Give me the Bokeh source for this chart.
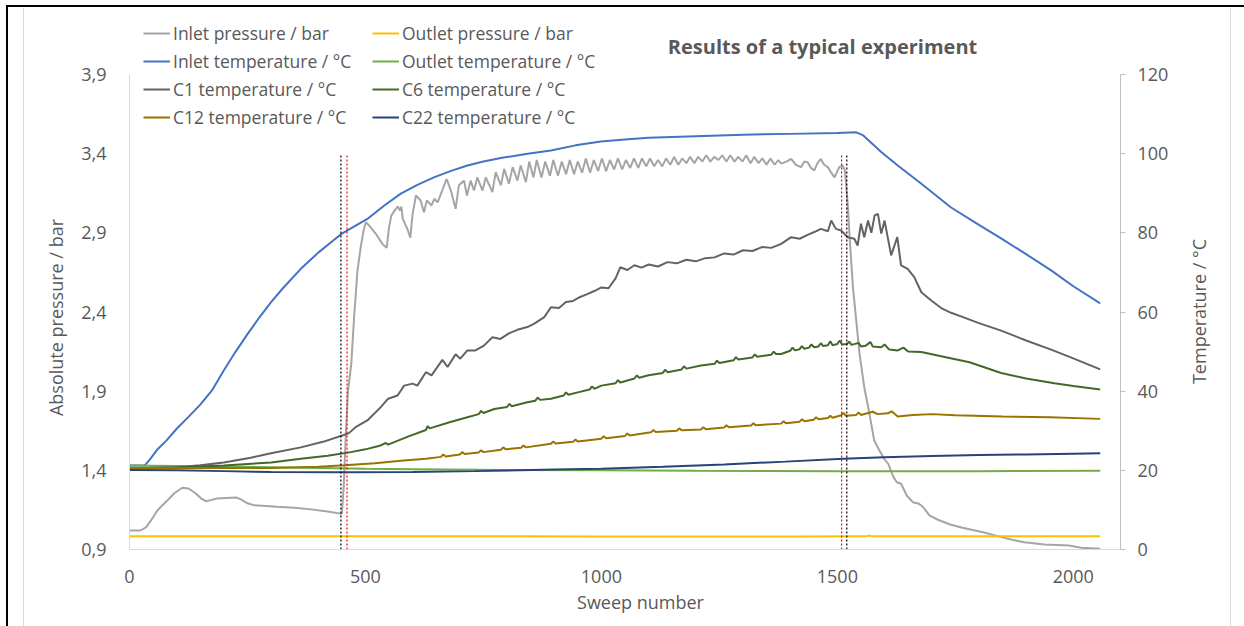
import math
from bokeh.plotting import figure
from bokeh.models import (Range1d, LinearAxis, FixedTicker, CustomJSTickFormatter,
                          Legend, LegendItem, Label)
from bokeh.embed import file_html
from bokeh.resources import INLINE

# ---------------- data ----------------
x_ticks = [0, 500, 1000, 1500, 2000]
p_ticks = [0.9, 1.4, 1.9, 2.4, 2.9, 3.4, 3.9]
t_ticks = [0, 20, 40, 60, 80, 100, 120]

ip_sweep = [0, 23, 35, 47, 59, 70, 80, 95, 112, 125, 140, 152, 162, 172, 185, 205, 227, 237, 250, 263, 290, 313, 350, 380, 420, 450,
            454, 458, 463, 470, 476, 483, 490, 496, 501, 508, 522, 536, 545, 550, 555, 564, 569, 573, 576, 579, 590, 595, 600, 607,
            617, 624, 630, 640, 646, 653, 672, 681, 691, 698, 709, 715, 723, 730, 737, 748, 755, 769, 776, 787, 794, 804, 812, 822,
            829, 840, 847, 856, 863, 873, 881, 891, 898, 908, 916, 925, 933, 942, 950, 959, 967, 976, 984, 993, 1001, 1010, 1018,
            1027, 1035, 1044, 1052, 1061, 1069, 1078, 1086, 1095, 1103, 1112, 1120, 1129, 1137, 1146, 1154, 1163, 1171, 1180, 1188,
            1197, 1205, 1214, 1222, 1231, 1239, 1248, 1256, 1265, 1273, 1282, 1290, 1299, 1307, 1316, 1324, 1333, 1341, 1350, 1358,
            1367, 1375, 1381, 1392, 1402, 1412, 1423, 1430, 1437, 1444, 1451, 1458, 1465, 1472, 1480, 1487, 1494, 1504, 1511, 1516,
            1522, 1526, 1533, 1540, 1547, 1557, 1568, 1578, 1590, 1600, 1608, 1619, 1626, 1635, 1647, 1660, 1673, 1682, 1695, 1713,
            1739, 1765, 1809, 1848, 1870, 1896, 1939, 1991, 2017, 2057]
ip_bar = [1.02, 1.02, 1.04, 1.09, 1.146, 1.18, 1.209, 1.255, 1.29, 1.285, 1.255, 1.222, 1.205, 1.212, 1.222, 1.225, 1.228, 1.215, 1.192, 1.18, 1.175, 1.17, 1.163, 1.155, 1.14, 1.125,
          1.3, 1.6, 1.9, 2.075, 2.37, 2.66, 2.81, 2.915, 2.967, 2.946, 2.894, 2.83, 2.805, 2.936, 3.01, 3.05, 3.066, 3.04, 3.066, 2.99, 2.915, 2.87, 3.02, 3.136,
          3.104, 3.03, 3.104, 3.073, 3.115, 3.093, 3.24, 3.167, 3.052, 3.2, 3.23, 3.136, 3.23, 3.167, 3.25, 3.167, 3.25, 3.157, 3.283, 3.2, 3.304, 3.21, 3.315, 3.23,
          3.325, 3.22, 3.35, 3.25, 3.36, 3.25, 3.35, 3.26, 3.36, 3.26, 3.35, 3.27, 3.36, 3.27, 3.35, 3.28, 3.37, 3.28, 3.36, 3.29, 3.37, 3.29, 3.36,
          3.3, 3.37, 3.3, 3.36, 3.31, 3.37, 3.31, 3.37, 3.32, 3.37, 3.32, 3.36, 3.32, 3.37, 3.33, 3.38, 3.33, 3.37, 3.34, 3.38,
          3.34, 3.38, 3.35, 3.39, 3.35, 3.38, 3.36, 3.39, 3.35, 3.39, 3.35, 3.38, 3.35, 3.39, 3.34, 3.38, 3.34, 3.37, 3.33, 3.37,
          3.33, 3.36, 3.337, 3.35, 3.367, 3.33, 3.315, 3.35, 3.346, 3.31, 3.294, 3.34, 3.367, 3.33, 3.315, 3.28, 3.25, 3.315, 3.325, 3.294,
          3.083, 2.873, 2.557, 2.347, 2.136, 1.925, 1.757, 1.59, 1.52, 1.47, 1.44, 1.357, 1.325, 1.315, 1.241, 1.199, 1.189, 1.167, 1.115, 1.088,
          1.058, 1.037, 1.009, 0.978, 0.961, 0.946, 0.932, 0.925, 0.911, 0.904]

op_sweep = [0, 200, 400, 600, 800, 1000, 1200, 1400, 1560, 1568, 1575, 1800, 2057]
op_bar = [0.984, 0.984, 0.983, 0.983, 0.983, 0.982, 0.982, 0.982, 0.983, 0.988, 0.983, 0.983, 0.983]

it_sweep = [0, 32, 45, 60, 78, 100, 125, 150, 176, 200, 225, 250, 275, 300, 325, 363, 400, 433, 450, 504, 540, 575, 610, 645, 680,
            716, 750, 787, 840, 893, 945, 999, 1050, 1100, 1200, 1300, 1400, 1500, 1540, 1555, 1593, 1628, 1678, 1741, 1800, 1847,
            1900, 1953, 2000, 2057]
it_degc = [21.2, 21.2, 23.0, 25.4, 27.5, 30.5, 33.5, 36.6, 40.4, 45.3, 50.0, 54.4, 58.6, 62.5, 66.0, 70.9, 75.0, 78.2, 79.8, 83.5, 86.9, 89.9, 92.1, 94.0, 95.6,
           97.0, 98.0, 98.9, 99.9, 100.8, 102.1, 103.1, 103.6, 104.0, 104.4, 104.8, 105.0, 105.2, 105.4, 104.6, 100.4, 97.0, 92.4, 86.4, 82.0, 78.6,
           74.6, 70.5, 66.5, 62.2]

ot_sweep = [0, 100, 200, 300, 400, 500, 600, 800, 1000, 1200, 1500, 1800, 2057]
ot_degc = [21.2, 21.1, 21.0, 20.8, 20.6, 20.4, 20.3, 20.1, 20.0, 19.9, 19.8, 19.8, 19.9]

c1_sweep = [0, 100, 150, 200, 257, 300, 363, 410, 451, 465, 479, 504, 532, 548, 568, 582, 600, 610, 628, 640, 663, 674, 691, 701,
            716, 733, 751, 769, 786, 804, 822, 843, 857, 879, 893, 910, 925, 940, 955, 970, 985, 1000, 1015, 1030, 1040, 1055, 1070,
            1085, 1100, 1120, 1140, 1160, 1180, 1200, 1220, 1240, 1260, 1280, 1300, 1320, 1340, 1360, 1381, 1402, 1420, 1437, 1451,
            1465, 1480, 1487, 1497, 1508, 1522, 1536, 1543, 1550, 1557, 1565, 1572, 1579, 1586, 1593, 1600, 1614, 1627, 1635, 1649,
            1663, 1678, 1699, 1720, 1741, 1762, 1800, 1847, 1900, 1953, 2000, 2057]
c1_degc = [20.5, 20.8, 21.3, 22.0, 23.2, 24.3, 25.8, 27.2, 28.8, 29.4, 30.9, 32.6, 35.9, 38.1, 38.9, 41.4, 41.9, 41.4, 44.8, 44.0, 47.9, 46.1, 49.3, 48.2,
           50.3, 50.3, 51.5, 53.6, 53.2, 54.6, 55.5, 56.2, 57.0, 58.7, 61.2, 61.0, 62.5, 62.8, 63.8, 64.5, 65.3, 66.2, 66.0, 68.5, 71.3, 70.6, 71.8,
           71.2, 72.0, 71.5, 72.6, 72.3, 73.2, 72.8, 73.6, 73.8, 74.8, 74.5, 75.6, 75.4, 76.4, 76.2, 77.2, 78.9, 78.5, 79.5, 80.2,
           81.0, 80.4, 83.1, 81.0, 80.6, 78.9, 78.5, 76.8, 82.3, 78.9, 83.1, 80.0, 84.4, 84.8, 79.8, 83.1, 74.3, 78.9, 71.8, 70.9,
           68.8, 65.0, 62.9, 61.0, 59.8, 58.9, 57.2, 55.3, 52.8, 50.5, 48.3, 45.5]

c6_sweep = [0, 100, 200, 300, 363, 420, 469, 500, 530, 543, 548, 590, 628, 632, 636, 680, 716, 740, 745, 750, 773, 800, 805, 810,
            843, 860, 865, 870, 893, 920, 925, 930, 950, 975, 980, 985, 1000, 1030, 1035, 1040, 1070, 1075, 1080, 1100, 1130, 1135,
            1140, 1170, 1175, 1180, 1211, 1240, 1245, 1250, 1280, 1285, 1290, 1320, 1325, 1330, 1360, 1365, 1370, 1381, 1400, 1405,
            1410, 1420, 1425, 1430, 1440, 1445, 1451, 1460, 1465, 1470, 1480, 1485, 1490, 1500, 1505, 1510, 1520, 1525, 1530, 1545,
            1550, 1560, 1570, 1575, 1593, 1600, 1610, 1628, 1640, 1650, 1678, 1720, 1780, 1847, 1900, 1960, 2000, 2057]
c6_degc = [20.5, 20.7, 21.2, 22.0, 22.9, 23.7, 24.6, 25.3, 26.2, 26.9, 26.5, 28.5, 30.2, 31.2, 30.6, 32.2, 33.4, 34.2, 35.0, 34.5, 35.5, 36.0, 36.8, 36.2,
           37.2, 37.6, 38.4, 37.8, 38.1, 38.9, 39.7, 39.1, 39.7, 40.4, 41.2, 40.6, 41.4, 42.0, 42.8, 42.2, 43.2, 44.0, 43.4, 44.0, 44.6, 45.4,
           44.8, 45.5, 46.3, 45.7, 46.5, 46.9, 47.7, 47.1, 47.8, 48.6, 48.0, 48.5, 49.3, 48.7, 49.2, 50.0, 49.4, 49.4, 50.2, 51.0,
           50.3, 50.6, 51.4, 50.7, 51.0, 51.8, 51.1, 51.3, 52.1, 51.4, 51.6, 52.6, 51.6, 51.9, 52.8, 51.8, 51.9, 52.5, 51.7, 52.2,
           51.3, 51.5, 52.4, 51.3, 51.1, 51.8, 50.5, 50.3, 51.0, 50.0, 49.9, 48.8, 47.3, 44.6, 43.2, 42.0, 41.3, 40.4]

c12_sweep = [0, 300, 400, 456, 520, 575, 628, 660, 665, 670, 700, 705, 710, 740, 745, 750, 787, 792, 797, 830, 835, 840, 893, 898,
             903, 940, 945, 950, 1000, 1005, 1010, 1050, 1055, 1060, 1105, 1110, 1115, 1160, 1165, 1170, 1211, 1216, 1221, 1260,
             1265, 1270, 1317, 1322, 1327, 1381, 1386, 1391, 1420, 1425, 1430, 1450, 1455, 1460, 1480, 1485, 1490, 1508, 1513, 1518,
             1540, 1545, 1550, 1575, 1585, 1607, 1615, 1628, 1660, 1700, 1750, 1850, 1950, 2057]
c12_degc = [20.6, 20.6, 20.9, 21.3, 21.8, 22.4, 22.9, 23.4, 24.0, 23.5, 24.0, 24.6, 24.1, 24.5, 25.1, 24.6, 25.2, 25.8, 25.3, 25.7, 26.3, 25.8, 26.7, 27.3,
            26.8, 27.2, 27.8, 27.3, 28.0, 28.6, 28.1, 28.7, 29.3, 28.8, 29.6, 30.2, 29.7, 30.0, 30.6, 30.1, 30.3, 30.9, 30.4, 30.8,
            31.4, 30.9, 31.3, 31.9, 31.4, 31.8, 32.4, 31.9, 32.3, 32.9, 32.4, 32.8, 33.4, 32.9, 33.2, 33.8, 33.3, 33.9, 34.5, 33.8,
            34.0, 34.6, 34.0, 34.8, 34.2, 34.4, 34.9, 33.6, 34.0, 34.2, 33.9, 33.6, 33.4, 33.0]

c22_sweep = [0, 100, 200, 300, 456, 600, 732, 900, 1000, 1130, 1260, 1390, 1512, 1600, 1700, 1800, 1900, 2000, 2057]
c22_degc = [20.1, 20.0, 19.8, 19.6, 19.5, 19.6, 19.8, 20.2, 20.4, 20.9, 21.5, 22.2, 22.9, 23.3, 23.6, 23.9, 24.0, 24.2, 24.3]

event_black_sweep = [448, 1520]
event_red_sweep = [461, 1509]
event_bottom_bar = [0.9, 0.9]
event_top_bar = [3.4, 3.4]

X_MIN, X_MAX = 0, 2100
P_MIN, P_MAX = 0.9, 3.9
T_MIN, T_MAX = 0, 120

# ---------------- layout / style ----------------
FONT = "Open Sans"
TXT = "#595959"
FS = "18px"
CANVAS_W, CANVAS_H = 1244, 626
# pixel box of the value area inside the canvas
AX_LEFT, AX_RIGHT, AX_TOP, AX_BOTTOM = 129, 1120, 74, 549

def extend(lo, hi, px_lo, px_hi, px_min, px_max):
    """range that maps lo->px_lo and hi->px_hi over a frame spanning px_min..px_max"""
    k = (hi - lo) / (px_hi - px_lo)
    return lo - (px_lo - px_min) * k, hi + (px_max - px_hi) * k

x0, x1 = extend(X_MIN, X_MAX, AX_LEFT, AX_RIGHT, 0, CANVAS_W)
py0, py1 = extend(P_MIN, P_MAX, CANVAS_H - AX_BOTTOM, CANVAS_H - AX_TOP, 0, CANVAS_H)
ty0, ty1 = extend(T_MIN, T_MAX, CANVAS_H - AX_BOTTOM, CANVAS_H - AX_TOP, 0, CANVAS_H)

bg = ("linear-gradient(#000,#000) 6px 5px/1238px 2px no-repeat, "
      "linear-gradient(#000,#000) 6px 5px/2px 621px no-repeat, "
      "linear-gradient(#d9d9d9,#d9d9d9) 23px 8px/1px 618px no-repeat, "
      "linear-gradient(#d9d9d9,#d9d9d9) 1230px 8px/1px 618px no-repeat, #ffffff")

p = figure(width=CANVAS_W, height=CANVAS_H, output_backend="svg", toolbar_location=None,
           x_range=Range1d(x0, x1), y_range=Range1d(py0, py1),
           min_border_left=0, min_border_right=0, min_border_top=0, min_border_bottom=0,
           background_fill_color=None, border_fill_color=None,
           x_axis_location=None, y_axis_location=None,
           styles={"background": bg})
p.extra_y_ranges = {"temp": Range1d(ty0, ty1)}
p.outline_line_color = None
p.xgrid.visible = False
p.ygrid.visible = False

# x axis
xa = LinearAxis(ticker=FixedTicker(ticks=x_ticks), bounds=(X_MIN, X_MAX), fixed_location=P_MIN)
xa.axis_line_color = "#d9d9d9"
xa.major_tick_line_color = None
xa.minor_tick_line_color = None
xa.major_label_standoff = 14
p.add_layout(xa, "below")

# left axis
ya = LinearAxis(ticker=FixedTicker(ticks=p_ticks), bounds=(P_MIN, P_MAX), fixed_location=X_MIN)
ya.formatter = CustomJSTickFormatter(code="return tick.toFixed(1).replace('.', ',');")
ya.axis_line_color = "#d9d9d9"
ya.major_tick_line_color = None
ya.minor_tick_line_color = None
ya.major_label_standoff = 17
p.add_layout(ya, "left")

# right axis
ra = LinearAxis(y_range_name="temp", ticker=FixedTicker(ticks=t_ticks), bounds=(T_MIN, T_MAX), fixed_location=X_MAX)
ra.axis_line_color = "#bfbfbf"
ra.major_tick_line_color = "#bfbfbf"
ra.major_tick_out = 5
ra.major_tick_in = 0
ra.minor_tick_line_color = None
ra.major_label_standoff = 12
p.add_layout(ra, "right")

for ax in (xa, ya, ra):
    ax.major_label_text_font = FONT
    ax.major_label_text_font_size = FS
    ax.major_label_text_color = TXT

W = 2
r_ip = p.line(ip_sweep, ip_bar, line_color="#a5a5a5", line_width=W)
r_op = p.line(op_sweep, op_bar, line_color="#ffc000", line_width=W)
r_it = p.line(it_sweep, it_degc, line_color="#4472c4", line_width=W, y_range_name="temp")
r_ot = p.line(ot_sweep, ot_degc, line_color="#70ad47", line_width=W, y_range_name="temp")
r_c1 = p.line(c1_sweep, c1_degc, line_color="#636363", line_width=W, y_range_name="temp")
r_c6 = p.line(c6_sweep, c6_degc, line_color="#43682b", line_width=W, y_range_name="temp")
r_c12 = p.line(c12_sweep, c12_degc, line_color="#997300", line_width=W, y_range_name="temp")
r_c22 = p.line(c22_sweep, c22_degc, line_color="#264478", line_width=W, y_range_name="temp")

p.segment(x0=event_black_sweep, y0=event_bottom_bar, x1=event_black_sweep, y1=event_top_bar,
          line_color="black", line_width=1.2, line_dash="2 2")
p.segment(x0=event_red_sweep, y0=event_bottom_bar, x1=event_red_sweep, y1=event_top_bar,
          line_color="red", line_width=1.2, line_dash="2 2")

def make_legend(items, loc):
    lg = Legend(items=items, location=loc, orientation="vertical")
    lg.glyph_width = 27
    lg.glyph_height = 20
    lg.label_height = 20
    lg.label_standoff = 3
    lg.spacing = 4
    lg.padding = 0
    lg.margin = 0
    lg.border_line_color = None
    lg.background_fill_alpha = 0
    lg.label_text_font = FONT
    lg.label_text_font_size = "17.5px"
    lg.label_text_color = TXT
    return lg

LEG_BOTTOM = CANVAS_H - 129
leg1 = make_legend([LegendItem(label="Inlet pressure / bar", renderers=[r_ip]),
                    LegendItem(label="Inlet temperature / °C", renderers=[r_it]),
                    LegendItem(label="C1 temperature / °C", renderers=[r_c1]),
                    LegendItem(label="C12 temperature / °C", renderers=[r_c12])], (143, LEG_BOTTOM))
leg2 = make_legend([LegendItem(label="Outlet pressure / bar", renderers=[r_op]),
                    LegendItem(label="Outlet temperature / °C", renderers=[r_ot]),
                    LegendItem(label="C6 temperature / °C", renderers=[r_c6]),
                    LegendItem(label="C22 temperature / °C", renderers=[r_c22])], (372, LEG_BOTTOM))
p.add_layout(leg1)
p.add_layout(leg2)

def add_text(text, cx, cy_top, size=FS, bold=False, angle=0.0):
    p.add_layout(Label(x=cx, y=CANVAS_H - cy_top, x_units="screen", y_units="screen",
                       text=text, text_align="center", text_baseline="middle", angle=angle,
                       text_font=FONT, text_font_style="bold" if bold else "normal",
                       text_font_size=size, text_color=TXT))

add_text("Results of a typical experiment", 822, 46, size="20px", bold=True)
add_text("Sweep number", 640, 601)
add_text("Absolute pressure / bar", 55, 317, angle=math.pi / 2)
add_text("Temperature / °C", 1198, 311, angle=math.pi / 2)

open("out.html", "w").write(file_html(p, INLINE))
